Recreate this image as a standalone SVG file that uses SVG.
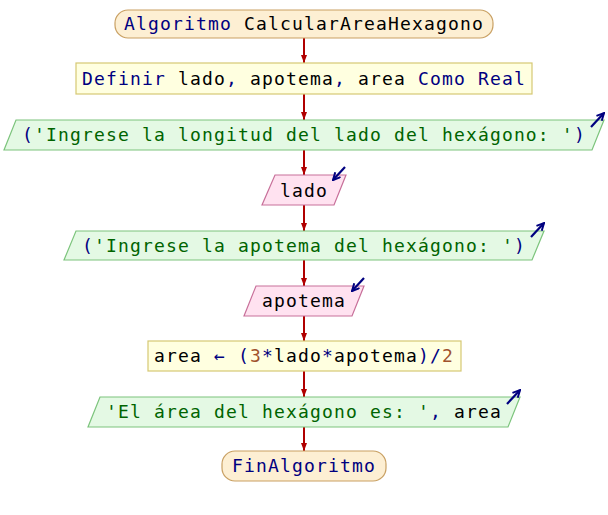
<svg xmlns="http://www.w3.org/2000/svg" width="608" height="515" viewBox="0 0 608 515">
  <defs>
    <marker id="flow-head" viewBox="0 0 8 6" refX="8" refY="3" markerWidth="8" markerHeight="6" markerUnits="userSpaceOnUse" orient="auto">
      <path d="M0,0 L8,3 L0,6 Z" fill="#b00000"/>
    </marker>
    <marker id="io-head" viewBox="0 0 10 10" refX="9" refY="5" markerWidth="9" markerHeight="9" markerUnits="userSpaceOnUse" orient="auto">
      <path d="M1,1 L9,5 L1,9" fill="none" stroke="#000080" stroke-width="2.2"/>
    </marker>
    <style>
      .term { fill: #fdefd3; stroke: #c9a063; stroke-width: 1.2; }
      .proc { fill: #ffffe0; stroke: #d6c873; stroke-width: 1.2; }
      .out  { fill: #e4f9e4; stroke: #7cc47c; stroke-width: 1.2; }
      .in   { fill: #ffe2f0; stroke: #c8709a; stroke-width: 1.2; }
      .flow { stroke: #b00000; stroke-width: 2; fill: none; marker-end: url(#flow-head); }
      .io   { stroke: #000080; stroke-width: 2.2; fill: none; marker-end: url(#io-head); }
      text  { font-family: "DejaVu Sans Mono", "Liberation Mono", monospace; font-size: 18px; letter-spacing: 1.16px; fill: #000000; }
      .kw   { fill: #000080; }
      .str  { fill: #006400; }
      .num  { fill: #a0522d; }
    </style>
  </defs>

  <!-- connectors -->
  <g id="connectors">
    <line class="flow" x1="304" y1="38" x2="304" y2="63"/>
    <line class="flow" x1="304" y1="94" x2="304" y2="120"/>
    <line class="flow" x1="304" y1="150" x2="304" y2="175"/>
    <line class="flow" x1="304" y1="205" x2="304" y2="231"/>
    <line class="flow" x1="304" y1="260" x2="304" y2="286"/>
    <line class="flow" x1="304" y1="316" x2="304" y2="341"/>
    <line class="flow" x1="304" y1="371" x2="304" y2="397"/>
    <line class="flow" x1="304" y1="427" x2="304" y2="451"/>
  </g>

  <g id="start">
    <rect class="term" x="115" y="10" width="378" height="28" rx="13" ry="13"/>
    <text x="124" y="30"><tspan class="kw">Algoritmo</tspan> CalcularAreaHexagono</text>
  </g>

  <g id="define">
    <rect class="proc" x="76" y="63" width="456" height="31"/>
    <text x="82" y="85"><tspan class="kw">Definir</tspan> lado<tspan class="kw">,</tspan> apotema<tspan class="kw">,</tspan> area <tspan class="kw">Como Real</tspan></text>
  </g>

  <g id="write-side">
    <polygon class="out" points="16,120 604,120 592,150 4,150"/>
    <text x="22" y="141"><tspan class="kw">(</tspan><tspan class="str">'Ingrese la longitud del lado del hexágono: '</tspan><tspan class="kw">)</tspan></text>
    <line class="io" x1="591" y1="127" x2="604" y2="113"/>
  </g>

  <g id="read-side">
    <polygon class="in" points="275,175 346,175 334,205 262,205"/>
    <text x="280" y="197">lado</text>
    <line class="io" x1="345" y1="167" x2="333" y2="180"/>
  </g>

  <g id="write-apothem">
    <polygon class="out" points="76,231 544,231 532,260 64,260"/>
    <text x="82" y="252"><tspan class="kw">(</tspan><tspan class="str">'Ingrese la apotema del hexágono: '</tspan><tspan class="kw">)</tspan></text>
    <line class="io" x1="531" y1="237" x2="544" y2="223"/>
  </g>

  <g id="read-apothem">
    <polygon class="in" points="256,286 364,286 352,316 244,316"/>
    <text x="262" y="307">apotema</text>
    <line class="io" x1="364" y1="278" x2="352" y2="291"/>
  </g>

  <g id="compute-area">
    <rect class="proc" x="148" y="341" width="313" height="30"/>
    <text x="154" y="362">area <tspan class="kw">←</tspan> <tspan class="kw">(</tspan><tspan class="num">3</tspan><tspan class="kw">*</tspan>lado<tspan class="kw">*</tspan>apotema<tspan class="kw">)/</tspan><tspan class="num">2</tspan></text>
  </g>

  <g id="write-area">
    <polygon class="out" points="100,397 520,397 508,427 88,427"/>
    <text x="106" y="418"><tspan class="str">'El área del hexágono es: '</tspan><tspan class="kw">,</tspan> area</text>
    <line class="io" x1="507" y1="404" x2="520" y2="390"/>
  </g>

  <g id="end">
    <rect class="term" x="222" y="451" width="164" height="30" rx="13" ry="13"/>
    <text x="232" y="472" class="kw">FinAlgoritmo</text>
  </g>
</svg>
